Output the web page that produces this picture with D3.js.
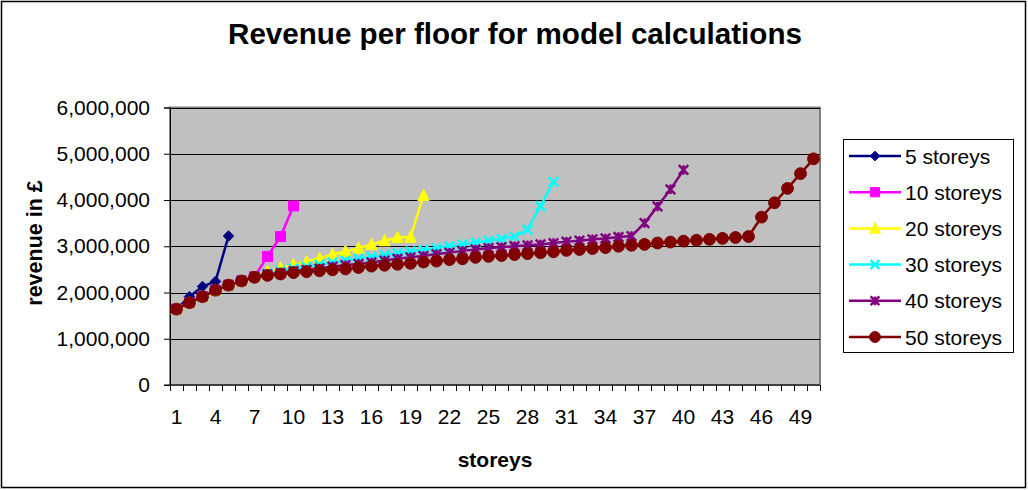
<!DOCTYPE html>
<html>
<head>
<meta charset="utf-8">
<script src="https://cdn.jsdelivr.net/npm/d3@7"></script>
<style>
  html, body { margin: 0; padding: 0; background: #fff; }
  svg { display: block; font-family: "Liberation Sans", Arial, sans-serif; }
</style>
</head>
<body>
<svg id="chart" width="1028" height="490"></svg>
<script>
const categories = d3.range(1, 51);
const tickLabels = [1, 4, 7, 10, 13, 16, 19, 22, 25, 28, 31, 34, 37, 40, 43, 46, 49];
const yTicks = [0, 1000000, 2000000, 3000000, 4000000, 5000000, 6000000];
const seriesNames = ["5 storeys", "10 storeys", "20 storeys", "30 storeys", "40 storeys", "50 storeys"];

const s5 = [1.64, 1.91, 2.13, 2.24, 3.22];
const s10 = [1.64, 1.78, 1.91, 2.05, 2.16, 2.25, 2.34, 2.78, 3.21, 3.87];
const s20 = [1.64, 1.78, 1.91, 2.05, 2.16, 2.25, 2.34, 2.45, 2.53, 2.60, 2.67, 2.74, 2.82, 2.89, 2.96,
             3.04, 3.12, 3.19, 3.20, 4.10];
const s30 = [1.64, 1.78, 1.91, 2.05, 2.16, 2.25, 2.34, 2.41, 2.46, 2.52, 2.56, 2.60, 2.65, 2.69, 2.73,
             2.77, 2.81, 2.85, 2.89, 2.92, 2.96, 3.00, 3.04, 3.08, 3.12, 3.16, 3.21, 3.36, 3.87, 4.39];
const s40 = [1.64, 1.78, 1.91, 2.05, 2.16, 2.25, 2.34, 2.39, 2.42, 2.46, 2.49, 2.52, 2.56, 2.59, 2.62,
             2.65, 2.69, 2.73, 2.76, 2.79, 2.83, 2.86, 2.90, 2.93, 2.96, 2.98, 3.00, 3.02, 3.04, 3.07,
             3.10, 3.12, 3.15, 3.17, 3.20, 3.22, 3.50, 3.86, 4.23, 4.65];
const s50 = [1.64, 1.78, 1.91, 2.05, 2.16, 2.25, 2.33, 2.37, 2.40, 2.43, 2.45, 2.47, 2.49, 2.51, 2.54,
             2.57, 2.59, 2.61, 2.63, 2.66, 2.68, 2.71, 2.73, 2.76, 2.78, 2.80, 2.82, 2.84, 2.86, 2.88,
             2.91, 2.93, 2.95, 2.97, 3.00, 3.02, 3.04, 3.07, 3.09, 3.11, 3.13, 3.15, 3.17, 3.19, 3.21,
             3.63, 3.94, 4.25, 4.57, 4.89];
const seriesValues = [s5, s10, s20, s30, s40, s50];   // millions of £
const seriesColors = ["#000080", "#FF00FF", "#FFFF00", "#00FFFF", "#800080", "#800000"];

// custom marker shapes (Excel style)
const diamond = { draw(c, size) { const r = Math.sqrt(size) / 2; c.moveTo(0, -r); c.lineTo(r, 0); c.lineTo(0, r); c.lineTo(-r, 0); c.closePath(); } };
const square = { draw(c, size) { const r = Math.sqrt(size) / 2; c.rect(-r, -r, 2 * r, 2 * r); } };
const triangle = { draw(c, size) { const r = Math.sqrt(size) / 2; c.moveTo(0, -r * 1.1); c.lineTo(r, r * 0.9); c.lineTo(-r, r * 0.9); c.closePath(); } };
const xmark = { draw(c, size) { const r = Math.sqrt(size) / 2; c.moveTo(-r, -r); c.lineTo(r, r); c.moveTo(-r, r); c.lineTo(r, -r); } };
const star = { draw(c, size) { const r = Math.sqrt(size) / 2; c.moveTo(-r, -r); c.lineTo(r, r); c.moveTo(-r, r); c.lineTo(r, -r); c.moveTo(0, -r); c.lineTo(0, r); } };
const circle = { draw(c, size) { const r = Math.sqrt(size) / 2; c.moveTo(r, 0); c.arc(0, 0, r, 0, 2 * Math.PI); } };
const markerTypes = [diamond, square, triangle, xmark, star, circle];
const markerSizes = [110, 100, 130, 90, 90, 140];
const markerFilled = [true, true, true, false, false, true];

const svg = d3.select("#chart");
const W = 1028, H = 490;
const plot = { left: 170, right: 820, top: 107.5, bottom: 385 };
const FONT = "Liberation Sans, Arial, sans-serif";

// outer border
svg.append("rect").attr("x", 1.5).attr("y", 1.5).attr("width", W - 4).attr("height", H - 4)
  .attr("fill", "#fff").attr("stroke", "#000").attr("stroke-width", 1.5);

const x = d3.scaleBand().domain(categories).range([plot.left, plot.right]).padding(0);
const y = d3.scaleLinear().domain([0, 6000000]).range([plot.bottom, plot.top]);
const cx = d => x(d) + x.bandwidth() / 2;

// plot area
svg.append("rect").attr("x", plot.left).attr("y", plot.top)
  .attr("width", plot.right - plot.left).attr("height", plot.bottom - plot.top)
  .attr("fill", "#C0C0C0").attr("stroke", "#808080").attr("stroke-width", 2);

// gridlines
svg.append("g").selectAll("line").data(yTicks.slice(1)).join("line")
  .attr("x1", plot.left).attr("x2", plot.right)
  .attr("y1", d => Math.round(y(d)) + 0.5).attr("y2", d => Math.round(y(d)) + 0.5)
  .attr("stroke", "#000").attr("stroke-width", 1.2);

// y axis
const yAxis = d3.axisLeft(y).tickValues(yTicks).tickSize(6).tickPadding(14)
  .tickFormat(d => d3.format(",")(d));
const gy = svg.append("g").attr("transform", `translate(${plot.left},0)`).call(yAxis);
gy.select(".domain").attr("stroke", "#000");
gy.selectAll(".tick line").attr("stroke", "#000");
gy.selectAll("text").attr("font-size", 21).attr("fill", "#000").attr("font-family", FONT);

// x axis (labels every 3rd category, ticks at category boundaries)
const xAxis = d3.axisBottom(x).tickValues(tickLabels).tickSize(0).tickPadding(24);
const gx = svg.append("g").attr("transform", `translate(0,${plot.bottom})`).call(xAxis);
gx.select(".domain").remove();
gx.selectAll("text").attr("font-size", 21).attr("fill", "#000").attr("font-family", FONT);
const boundaries = categories.map(c => x(c)).concat([plot.right]);
svg.append("g").selectAll("line").data(boundaries).join("line")
  .attr("x1", d => Math.round(d) + 0.5).attr("x2", d => Math.round(d) + 0.5)
  .attr("y1", plot.bottom).attr("y2", plot.bottom + 6)
  .attr("stroke", "#000").attr("stroke-width", 1);
svg.append("line").attr("x1", plot.left - 6).attr("x2", plot.right)
  .attr("y1", plot.bottom).attr("y2", plot.bottom).attr("stroke", "#000").attr("stroke-width", 1.2);

// series
const line = d3.line().x(d => cx(d.c)).y(d => y(d.v * 1e6));
seriesValues.forEach((vals, i) => {
  const data = vals.map((v, k) => ({ c: categories[k], v }));
  const g = svg.append("g");
  g.append("path").datum(data).attr("d", line).attr("fill", "none")
    .attr("stroke", seriesColors[i]).attr("stroke-width", 2.5);
  const sym = d3.symbol().type(markerTypes[i]).size(markerSizes[i]);
  g.selectAll("path.m").data(data).join("path").attr("class", "m")
    .attr("transform", d => `translate(${cx(d.c)},${y(d.v * 1e6)})`)
    .attr("d", sym)
    .attr("fill", markerFilled[i] ? seriesColors[i] : "none")
    .attr("stroke", seriesColors[i]).attr("stroke-width", markerFilled[i] ? 1 : 2.5);
});

// title
svg.append("text").attr("x", 515).attr("y", 44).attr("text-anchor", "middle")
  .attr("font-size", 29.6).attr("font-weight", "bold").text("Revenue per floor for model calculations");

// axis titles
svg.append("text").attr("x", 495).attr("y", 467).attr("text-anchor", "middle")
  .attr("font-size", 21).attr("font-weight", "bold").text("storeys");
svg.append("text").attr("transform", "translate(42,243) rotate(-90)").attr("text-anchor", "middle")
  .attr("font-size", 21.5).attr("font-weight", "bold").text("revenue in £");

// legend
const lg = svg.append("g");
lg.append("rect").attr("x", 843.5).attr("y", 139.5).attr("width", 170).attr("height", 213)
  .attr("fill", "#fff").attr("stroke", "#000").attr("stroke-width", 1);
const rowY = d3.scalePoint().domain(seriesNames).range([156, 337]);
seriesNames.forEach((name, i) => {
  const yy = rowY(name);
  lg.append("line").attr("x1", 849).attr("x2", 901).attr("y1", yy).attr("y2", yy)
    .attr("stroke", seriesColors[i]).attr("stroke-width", 2.5);
  lg.append("path").attr("transform", `translate(875,${yy})`)
    .attr("d", d3.symbol().type(markerTypes[i]).size(markerSizes[i] * 0.85)())
    .attr("fill", markerFilled[i] ? seriesColors[i] : "none")
    .attr("stroke", seriesColors[i]).attr("stroke-width", markerFilled[i] ? 1 : 2.5);
  lg.append("text").attr("x", 905).attr("y", yy + 7.5).attr("font-size", 21).attr("font-family", FONT).text(name);
});
</script>
</body>
</html>
